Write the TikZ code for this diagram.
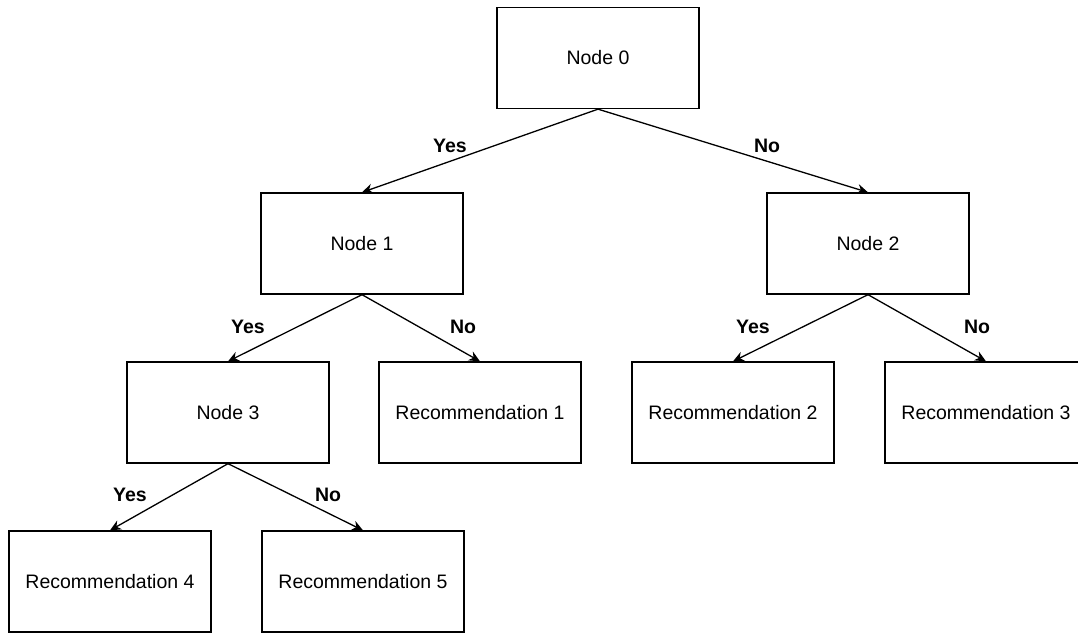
\documentclass[tikz,border=0pt]{standalone}
\usepackage{fontspec}
\setmainfont{Liberation Sans}
\usetikzlibrary{arrows.meta}
\begin{document}
\begin{tikzpicture}[x=1pt,y=-1pt,
  box/.style={draw,line width=1.3pt,minimum width=202pt,minimum height=101pt,inner sep=0pt,font=\fontsize{19.5}{23}\selectfont},
  edge/.style={line width=1.3pt,-{Stealth[length=11pt,width=10pt]}},
  lbl/.style={font=\fontsize{19.5}{23}\selectfont\bfseries,inner sep=0pt}]
\useasboundingbox (0,0) rectangle (1078,633);
\node[box] (n0) at (598,58) {Node 0};
\node[box] (n1) at (362,243.5) {Node 1};
\node[box] (n2) at (868,243.5) {Node 2};
\node[box] (n3) at (228,412.5) {Node 3};
\node[box] (r1) at (480,412.5) {Recommendation 1};
\node[box] (r2) at (733,412.5) {Recommendation 2};
\node[box] (r3) at (986,412.5) {Recommendation 3};
\node[box] (r4) at (110,581.5) {Recommendation 4};
\node[box] (r5) at (363,581.5) {Recommendation 5};
\draw[edge] (n0.south) -- (n1.north);
\draw[edge] (n0.south) -- (n2.north);
\draw[edge] (n1.south) -- (n3.north);
\draw[edge] (n1.south) -- (r1.north);
\draw[edge] (n2.south) -- (r2.north);
\draw[edge] (n2.south) -- (r3.north);
\draw[edge] (n3.south) -- (r4.north);
\draw[edge] (n3.south) -- (r5.north);
\node[lbl] (l01) at (450,146) {Yes};
\node[lbl] (l02) at (767,146) {No};
\node[lbl] (l13) at (248,327) {Yes};
\node[lbl] (l1r) at (463,327) {No};
\node[lbl] (l2r2) at (753,327) {Yes};
\node[lbl] (l2r3) at (977,327) {No};
\node[lbl] (l3r4) at (130,495) {Yes};
\node[lbl] (l3r5) at (328,495) {No};
\end{tikzpicture}
\end{document}
